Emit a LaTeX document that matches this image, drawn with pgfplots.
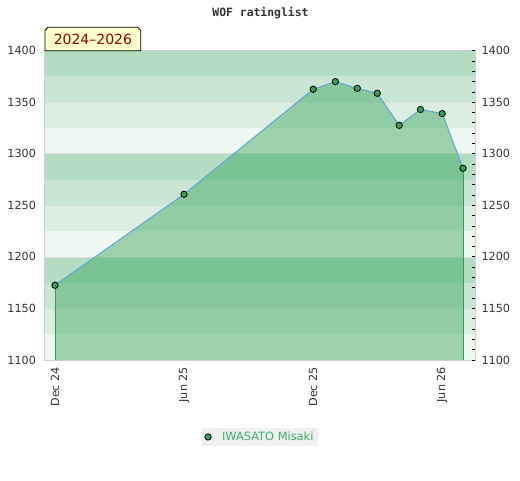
\documentclass[border=0pt]{standalone}
\usepackage{pgfplots}
\pgfplotsset{compat=1.18}
\usepackage{fontspec}
\setmainfont{DejaVu Sans}
\newfontfamily\monofont{DejaVu Sans Mono}
\definecolor{bandA}{HTML}{B3DCC2}
\definecolor{bandB}{HTML}{C9E5D3}
\definecolor{bandC}{HTML}{DCEDE2}
\definecolor{bandD}{HTML}{EEF7F1}
\definecolor{fillgreen}{RGB}{50,165,86}
\definecolor{linegreen}{RGB}{55,155,90}
\definecolor{lineblue}{RGB}{95,165,215}
\definecolor{markgreen}{RGB}{50,160,85}
\definecolor{legendgreen}{RGB}{60,175,105}
\definecolor{labelgray}{HTML}{333333}
\definecolor{bordergray}{HTML}{D0D0D0}
\definecolor{gridgray}{HTML}{D8DED9}
\definecolor{yellowbox}{HTML}{FFFFCC}
\definecolor{darkred}{HTML}{990000}

\pgfplotstableread{
x y
0 1172.5
6 1260.7
12.01 1362.6
13.04 1370
14.06 1363.5
14.99 1358.7
16.01 1327.6
17.0 1343
18.01 1339
18.98 1286
}\ratings

\begin{document}
\begin{tikzpicture}[x=1pt,y=1pt]
\path[use as bounding box] (0,0) rectangle (520,480);
\node[font=\monofont\bfseries\fontsize{11.4}{12}\selectfont, text=labelgray] at (260.5,467) {WOF ratinglist};
\begin{axis}[
  at={(45pt,120pt)}, anchor=south west,
  scale only axis, width=430pt, height=309.3pt,
  xmin=-0.465, xmax=19.535, ymin=1100, ymax=1400,
  axis on top=true,
  axis line style={bordergray, line width=1pt},
  xtick={0,6,12,18},
  xticklabels={Dec 24, Jun 25, Dec 25, Jun 26},
  ytick={1100,1150,...,1400},
  major tick length=0pt,
  tick style={draw=none},
  /pgf/number format/assume math mode=true,
  /pgf/number format/1000 sep={},
  ticklabel style={font=\fontsize{11.2}{12}\selectfont, text=labelgray},
  xticklabel style={rotate=90, anchor=east, xshift=-3.5pt},
  yticklabel style={xshift=-5.5pt},
  legend style={at={(0.5,-0.2488)}, anchor=center, fill=black!6, draw=none,
    font=\fontsize{11.4}{13}\selectfont, text=legendgreen, inner xsep=3pt, inner ysep=2pt},
  legend image code/.code={\path[draw=none, fill=none] (-3.5pt,-3.5pt) rectangle (12pt,3.5pt);
    \draw[mark=*, mark size=3.2pt, mark options={fill=markgreen,draw=black,line width=0.8pt}] plot coordinates {(0pt,0pt)};},
]
% background bands
\fill[bandA] (axis cs:-0.465,1375) rectangle (axis cs:19.535,1400);
\fill[bandB] (axis cs:-0.465,1350) rectangle (axis cs:19.535,1375);
\fill[bandC] (axis cs:-0.465,1325) rectangle (axis cs:19.535,1350);
\fill[bandD] (axis cs:-0.465,1300) rectangle (axis cs:19.535,1325);
\fill[bandA] (axis cs:-0.465,1275) rectangle (axis cs:19.535,1300);
\fill[bandB] (axis cs:-0.465,1250) rectangle (axis cs:19.535,1275);
\fill[bandC] (axis cs:-0.465,1225) rectangle (axis cs:19.535,1250);
\fill[bandD] (axis cs:-0.465,1200) rectangle (axis cs:19.535,1225);
\fill[bandA] (axis cs:-0.465,1175) rectangle (axis cs:19.535,1200);
\fill[bandB] (axis cs:-0.465,1150) rectangle (axis cs:19.535,1175);
\fill[bandC] (axis cs:-0.465,1125) rectangle (axis cs:19.535,1150);
\fill[bandD] (axis cs:-0.465,1100) rectangle (axis cs:19.535,1125);
% grid lines
\draw[gridgray, line width=0.8pt] (axis cs:-0.465,1150) -- (axis cs:19.535,1150);
\draw[gridgray, line width=0.8pt] (axis cs:-0.465,1200) -- (axis cs:19.535,1200);
\draw[gridgray, line width=0.8pt] (axis cs:-0.465,1250) -- (axis cs:19.535,1250);
\draw[gridgray, line width=0.8pt] (axis cs:-0.465,1300) -- (axis cs:19.535,1300);
\draw[gridgray, line width=0.8pt] (axis cs:-0.465,1350) -- (axis cs:19.535,1350);
% area
\addplot[draw=none, fill=fillgreen, fill opacity=0.44, forget plot] table[x=x,y=y] {\ratings} \closedcycle;
\addplot[linegreen, line width=0.9pt, forget plot] coordinates {(0,1100) (0,1172.5)};
\addplot[linegreen, line width=0.9pt, forget plot] coordinates {(18.98,1100) (18.98,1286)};
\addplot[lineblue, line width=1pt, mark=*, mark size=3.2pt,
  mark options={fill=markgreen, draw=black, line width=0.8pt}] table[x=x,y=y] {\ratings};
\addlegendentry{IWASATO Misaki}
\end{axis}
\begin{axis}[
  at={(45pt,120pt)}, anchor=south west,
  scale only axis, width=430pt, height=309.3pt,
  xmin=-0.465, xmax=19.535, ymin=1100, ymax=1400,
  axis x line=none, axis y line*=right,
  axis line style={bordergray, line width=1pt},
  ytick={1100,1150,...,1400},
  minor ytick={1110,1120,...,1390},
  tick align=inside,
  major tick length=3pt, minor tick length=3pt,
  tick style={black, line width=0.8pt},
  /pgf/number format/assume math mode=true,
  /pgf/number format/1000 sep={},
  yticklabel style={font=\fontsize{11.2}{12}\selectfont, text=labelgray, xshift=3pt},
]
\end{axis}
\draw[black, line width=0.8pt, fill=yellowbox] (45,429.3) -- (45,449.7) -- (48,452.7) -- (137.7,452.7) -- (140.7,449.7) -- (140.7,429.3) -- cycle;
\node[font=\fontsize{14}{16}\selectfont, text=darkred] at (92.9,441) {2024–2026};
\end{tikzpicture}
\end{document}
